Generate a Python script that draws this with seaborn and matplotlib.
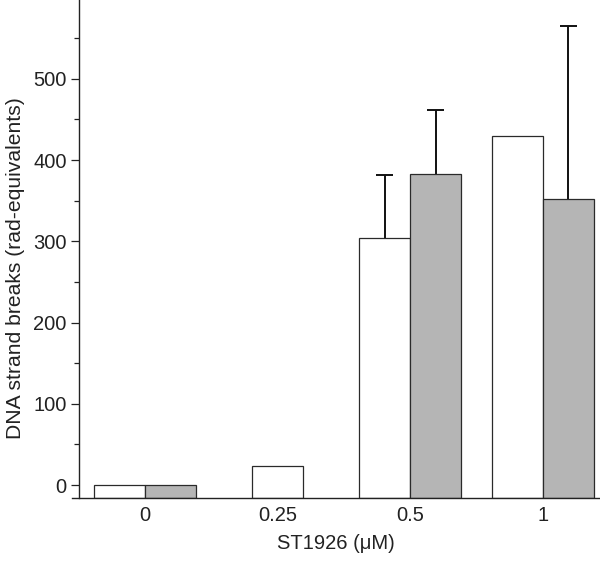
import numpy as np
import pandas as pd
import matplotlib
matplotlib.use("Agg")
import matplotlib.pyplot as plt
import seaborn as sns
from matplotlib.ticker import MultipleLocator

# ---- data ----
concentrations = ["0", "0.25", "0.5", "1"]
series_names = ["open", "filled"]
open_values = [0, 23, 304, 429]
filled_values = [0, np.nan, 383, 352]
open_err = [0, 0, 78, 0]
filled_err = [0, 0, 78, 213]

y_bottom = -16

df = pd.DataFrame({
    "conc": concentrations * 2,
    "series": [series_names[0]] * 4 + [series_names[1]] * 4,
    "value": open_values + filled_values,
    "err": open_err + filled_err,
})

sns.set_theme(style="ticks")
plt.rcParams["font.family"] = ["Liberation Sans", "DejaVu Sans"]

fig = plt.figure(figsize=(6.0, 5.64), dpi=100)
ax = fig.add_axes([72 / 600, 1 - 498 / 564, 528 / 600, 498 / 564])

sns.barplot(data=df.dropna(), x="conc", y="value", hue="series",
            order=concentrations, hue_order=series_names,
            palette={"open": "white", "filled": "#b5b5b5"},
            width=0.77, gap=0, errorbar=None, legend=False,
            edgecolor="#2a2a2a", linewidth=0.9, ax=ax, zorder=2)

# group bars per category; centre lone bars; extend bars down to the axis line
bars = [p for p in ax.patches]
for i, c in enumerate(concentrations):
    grp = [p for p in bars if abs(p.get_x() + p.get_width() / 2 - i) < 0.5]
    if len(grp) == 1:
        p = grp[0]
        p.set_x(i - p.get_width() / 2)

# error bars (upper only, cap on top) at the bar centres
cap_half = 0.064
for p in bars:
    top = p.get_height()
    cx = p.get_x() + p.get_width() / 2
    row = df[np.isclose(df["value"], top)]
    if len(row) == 0:
        continue
    e = row["err"].iloc[0]
    if e > 0:
        ax.vlines(cx, top, top + e, color="#111111", linewidth=1.4, zorder=1)
        ax.hlines(top + e, cx - cap_half, cx + cap_half, color="#111111",
                  linewidth=1.4, zorder=1)

for p in bars:
    h = p.get_height()
    p.set_y(y_bottom)
    p.set_height(h - y_bottom)

ax.set_ylim(y_bottom, 597)
ax.set_xlim(-0.55, 3.43)
ax.yaxis.set_major_locator(MultipleLocator(100))
ax.yaxis.set_minor_locator(MultipleLocator(50))
ax.set_yticks([0, 100, 200, 300, 400, 500])
ax.tick_params(axis="y", which="major", length=6, width=0.9, labelsize=14.5,
               colors="#222222", pad=3)
ax.tick_params(axis="y", which="minor", length=3.5, width=0.9, colors="#222222")
ax.tick_params(axis="x", length=0, labelsize=14.5, colors="#222222", pad=6)

ax.spines["top"].set_visible(False)
ax.spines["right"].set_visible(False)
ax.spines["left"].set_position(("axes", 7 / 528))
for s in ("left", "bottom"):
    ax.spines[s].set_linewidth(1.0)
    ax.spines[s].set_color("#222222")

ax.set_xlabel("ST1926 (μM)", fontsize=14.5, color="#222222", labelpad=6)
ax.set_ylabel("DNA strand breaks (rad-equivalents)", fontsize=15.2,
              color="#222222")
ax.yaxis.set_label_coords((25 - 72) / 528, 1 - 268 / 498)

fig.savefig("out.png", dpi=100)
